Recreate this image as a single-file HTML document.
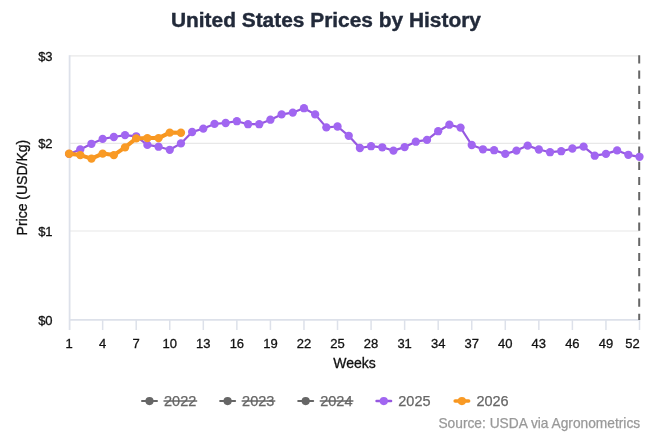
<!DOCTYPE html><html><head><meta charset="utf-8"><style>html,body{margin:0;padding:0;background:#fff;width:650px;height:433px;overflow:hidden}svg{display:block;will-change:transform;font-family:"Liberation Sans",sans-serif}</style></head><body>
<svg width="650" height="433" viewBox="0 0 650 433">
<text x="325.9" y="27.1" text-anchor="middle" font-size="20.9" font-weight="bold" fill="#222a3a" stroke="#222a3a" stroke-width="0.4">United States Prices by History</text>
<line x1="69.6" y1="231.00" x2="639.5" y2="231.00" stroke="#e8e8e8" stroke-width="1.2"/>
<line x1="69.6" y1="143.40" x2="639.5" y2="143.40" stroke="#e8e8e8" stroke-width="1.2"/>
<line x1="69.6" y1="55.80" x2="639.5" y2="55.80" stroke="#e8e8e8" stroke-width="1.2"/>
<line x1="69.6" y1="55.3" x2="69.6" y2="330" stroke="#dde1ea" stroke-width="1.8"/>
<line x1="69.6" y1="319.9" x2="639.5" y2="319.9" stroke="#dde1ea" stroke-width="1.8"/>
<line x1="102.65" y1="319.9" x2="102.65" y2="330" stroke="#dde1ea" stroke-width="1.5"/>
<line x1="136.21" y1="319.9" x2="136.21" y2="330" stroke="#dde1ea" stroke-width="1.5"/>
<line x1="169.76" y1="319.9" x2="169.76" y2="330" stroke="#dde1ea" stroke-width="1.5"/>
<line x1="203.31" y1="319.9" x2="203.31" y2="330" stroke="#dde1ea" stroke-width="1.5"/>
<line x1="236.86" y1="319.9" x2="236.86" y2="330" stroke="#dde1ea" stroke-width="1.5"/>
<line x1="270.42" y1="319.9" x2="270.42" y2="330" stroke="#dde1ea" stroke-width="1.5"/>
<line x1="303.97" y1="319.9" x2="303.97" y2="330" stroke="#dde1ea" stroke-width="1.5"/>
<line x1="337.52" y1="319.9" x2="337.52" y2="330" stroke="#dde1ea" stroke-width="1.5"/>
<line x1="371.08" y1="319.9" x2="371.08" y2="330" stroke="#dde1ea" stroke-width="1.5"/>
<line x1="404.63" y1="319.9" x2="404.63" y2="330" stroke="#dde1ea" stroke-width="1.5"/>
<line x1="438.18" y1="319.9" x2="438.18" y2="330" stroke="#dde1ea" stroke-width="1.5"/>
<line x1="471.74" y1="319.9" x2="471.74" y2="330" stroke="#dde1ea" stroke-width="1.5"/>
<line x1="505.29" y1="319.9" x2="505.29" y2="330" stroke="#dde1ea" stroke-width="1.5"/>
<line x1="538.84" y1="319.9" x2="538.84" y2="330" stroke="#dde1ea" stroke-width="1.5"/>
<line x1="572.39" y1="319.9" x2="572.39" y2="330" stroke="#dde1ea" stroke-width="1.5"/>
<line x1="605.95" y1="319.9" x2="605.95" y2="330" stroke="#dde1ea" stroke-width="1.5"/>
<line x1="639.50" y1="319.9" x2="639.50" y2="330" stroke="#dde1ea" stroke-width="1.5"/>
<text x="52.6" y="324.70" text-anchor="end" font-size="13" fill="#111" stroke="#111" stroke-width="0.3">$0</text>
<text x="52.6" y="235.80" text-anchor="end" font-size="13" fill="#111" stroke="#111" stroke-width="0.3">$1</text>
<text x="52.6" y="148.20" text-anchor="end" font-size="13" fill="#111" stroke="#111" stroke-width="0.3">$2</text>
<text x="52.6" y="60.60" text-anchor="end" font-size="13" fill="#111" stroke="#111" stroke-width="0.3">$3</text>
<text x="69.10" y="347.5" text-anchor="middle" font-size="13" fill="#111" stroke="#111" stroke-width="0.3">1</text>
<text x="102.65" y="347.5" text-anchor="middle" font-size="13" fill="#111" stroke="#111" stroke-width="0.3">4</text>
<text x="136.21" y="347.5" text-anchor="middle" font-size="13" fill="#111" stroke="#111" stroke-width="0.3">7</text>
<text x="169.76" y="347.5" text-anchor="middle" font-size="13" fill="#111" stroke="#111" stroke-width="0.3">10</text>
<text x="203.31" y="347.5" text-anchor="middle" font-size="13" fill="#111" stroke="#111" stroke-width="0.3">13</text>
<text x="236.86" y="347.5" text-anchor="middle" font-size="13" fill="#111" stroke="#111" stroke-width="0.3">16</text>
<text x="270.42" y="347.5" text-anchor="middle" font-size="13" fill="#111" stroke="#111" stroke-width="0.3">19</text>
<text x="303.97" y="347.5" text-anchor="middle" font-size="13" fill="#111" stroke="#111" stroke-width="0.3">22</text>
<text x="337.52" y="347.5" text-anchor="middle" font-size="13" fill="#111" stroke="#111" stroke-width="0.3">25</text>
<text x="371.08" y="347.5" text-anchor="middle" font-size="13" fill="#111" stroke="#111" stroke-width="0.3">28</text>
<text x="404.63" y="347.5" text-anchor="middle" font-size="13" fill="#111" stroke="#111" stroke-width="0.3">31</text>
<text x="438.18" y="347.5" text-anchor="middle" font-size="13" fill="#111" stroke="#111" stroke-width="0.3">34</text>
<text x="471.74" y="347.5" text-anchor="middle" font-size="13" fill="#111" stroke="#111" stroke-width="0.3">37</text>
<text x="505.29" y="347.5" text-anchor="middle" font-size="13" fill="#111" stroke="#111" stroke-width="0.3">40</text>
<text x="538.84" y="347.5" text-anchor="middle" font-size="13" fill="#111" stroke="#111" stroke-width="0.3">43</text>
<text x="572.39" y="347.5" text-anchor="middle" font-size="13" fill="#111" stroke="#111" stroke-width="0.3">46</text>
<text x="605.95" y="347.5" text-anchor="middle" font-size="13" fill="#111" stroke="#111" stroke-width="0.3">49</text>
<text x="632.60" y="347.5" text-anchor="middle" font-size="13" fill="#111" stroke="#111" stroke-width="0.3">52</text>
<text x="354.5" y="367.9" text-anchor="middle" font-size="14" fill="#111" stroke="#111" stroke-width="0.3">Weeks</text>
<text transform="translate(27.0,187.6) rotate(-90)" x="0" y="0" text-anchor="middle" font-size="14" fill="#111" stroke="#111" stroke-width="0.3">Price (USD/Kg)</text>
<line x1="639.2" y1="55.3" x2="639.2" y2="319.9" stroke="#666" stroke-width="2" stroke-dasharray="8.2 7.0"/>
<polyline points="69.10,153.90 80.28,149.40 91.47,143.80 102.65,138.90 113.84,137.00 125.02,135.10 136.21,136.30 147.39,144.90 158.57,146.70 169.76,149.80 180.94,143.40 192.13,132.00 203.31,128.60 214.50,123.90 225.68,123.00 236.86,121.20 248.05,124.20 259.23,124.20 270.42,119.70 281.60,114.40 292.79,112.60 303.97,108.20 315.15,114.40 326.34,127.40 337.52,126.50 348.71,135.80 359.89,148.00 371.08,146.20 382.26,147.30 393.45,150.60 404.63,147.10 415.81,141.70 427.00,139.90 438.18,131.20 449.37,124.70 460.55,127.60 471.74,145.00 482.92,149.30 494.10,150.20 505.29,153.90 516.47,150.60 527.66,145.60 538.84,149.50 550.03,152.20 561.21,151.20 572.39,148.50 583.58,146.60 594.76,155.70 605.95,153.90 617.13,150.40 628.32,154.80 639.50,156.80" fill="none" stroke="#9658e0" stroke-width="2.2" stroke-linejoin="round"/><circle cx="69.10" cy="153.90" r="4.15" fill="#a166f1"/><circle cx="80.28" cy="149.40" r="4.15" fill="#a166f1"/><circle cx="91.47" cy="143.80" r="4.15" fill="#a166f1"/><circle cx="102.65" cy="138.90" r="4.15" fill="#a166f1"/><circle cx="113.84" cy="137.00" r="4.15" fill="#a166f1"/><circle cx="125.02" cy="135.10" r="4.15" fill="#a166f1"/><circle cx="136.21" cy="136.30" r="4.15" fill="#a166f1"/><circle cx="147.39" cy="144.90" r="4.15" fill="#a166f1"/><circle cx="158.57" cy="146.70" r="4.15" fill="#a166f1"/><circle cx="169.76" cy="149.80" r="4.15" fill="#a166f1"/><circle cx="180.94" cy="143.40" r="4.15" fill="#a166f1"/><circle cx="192.13" cy="132.00" r="4.15" fill="#a166f1"/><circle cx="203.31" cy="128.60" r="4.15" fill="#a166f1"/><circle cx="214.50" cy="123.90" r="4.15" fill="#a166f1"/><circle cx="225.68" cy="123.00" r="4.15" fill="#a166f1"/><circle cx="236.86" cy="121.20" r="4.15" fill="#a166f1"/><circle cx="248.05" cy="124.20" r="4.15" fill="#a166f1"/><circle cx="259.23" cy="124.20" r="4.15" fill="#a166f1"/><circle cx="270.42" cy="119.70" r="4.15" fill="#a166f1"/><circle cx="281.60" cy="114.40" r="4.15" fill="#a166f1"/><circle cx="292.79" cy="112.60" r="4.15" fill="#a166f1"/><circle cx="303.97" cy="108.20" r="4.15" fill="#a166f1"/><circle cx="315.15" cy="114.40" r="4.15" fill="#a166f1"/><circle cx="326.34" cy="127.40" r="4.15" fill="#a166f1"/><circle cx="337.52" cy="126.50" r="4.15" fill="#a166f1"/><circle cx="348.71" cy="135.80" r="4.15" fill="#a166f1"/><circle cx="359.89" cy="148.00" r="4.15" fill="#a166f1"/><circle cx="371.08" cy="146.20" r="4.15" fill="#a166f1"/><circle cx="382.26" cy="147.30" r="4.15" fill="#a166f1"/><circle cx="393.45" cy="150.60" r="4.15" fill="#a166f1"/><circle cx="404.63" cy="147.10" r="4.15" fill="#a166f1"/><circle cx="415.81" cy="141.70" r="4.15" fill="#a166f1"/><circle cx="427.00" cy="139.90" r="4.15" fill="#a166f1"/><circle cx="438.18" cy="131.20" r="4.15" fill="#a166f1"/><circle cx="449.37" cy="124.70" r="4.15" fill="#a166f1"/><circle cx="460.55" cy="127.60" r="4.15" fill="#a166f1"/><circle cx="471.74" cy="145.00" r="4.15" fill="#a166f1"/><circle cx="482.92" cy="149.30" r="4.15" fill="#a166f1"/><circle cx="494.10" cy="150.20" r="4.15" fill="#a166f1"/><circle cx="505.29" cy="153.90" r="4.15" fill="#a166f1"/><circle cx="516.47" cy="150.60" r="4.15" fill="#a166f1"/><circle cx="527.66" cy="145.60" r="4.15" fill="#a166f1"/><circle cx="538.84" cy="149.50" r="4.15" fill="#a166f1"/><circle cx="550.03" cy="152.20" r="4.15" fill="#a166f1"/><circle cx="561.21" cy="151.20" r="4.15" fill="#a166f1"/><circle cx="572.39" cy="148.50" r="4.15" fill="#a166f1"/><circle cx="583.58" cy="146.60" r="4.15" fill="#a166f1"/><circle cx="594.76" cy="155.70" r="4.15" fill="#a166f1"/><circle cx="605.95" cy="153.90" r="4.15" fill="#a166f1"/><circle cx="617.13" cy="150.40" r="4.15" fill="#a166f1"/><circle cx="628.32" cy="154.80" r="4.15" fill="#a166f1"/><circle cx="639.50" cy="156.80" r="4.15" fill="#a166f1"/>
<polyline points="69.10,153.70 80.28,155.10 91.47,158.60 102.65,153.60 113.84,155.10 125.02,147.40 136.21,138.40 147.39,138.10 158.57,138.10 169.76,132.60 180.94,132.70" fill="none" stroke="#f7961f" stroke-width="4.0" stroke-linejoin="round"/><circle cx="69.10" cy="153.70" r="4.2" fill="#f99a25"/><circle cx="80.28" cy="155.10" r="4.2" fill="#f99a25"/><circle cx="91.47" cy="158.60" r="4.2" fill="#f99a25"/><circle cx="102.65" cy="153.60" r="4.2" fill="#f99a25"/><circle cx="113.84" cy="155.10" r="4.2" fill="#f99a25"/><circle cx="125.02" cy="147.40" r="4.2" fill="#f99a25"/><circle cx="136.21" cy="138.40" r="4.2" fill="#f99a25"/><circle cx="147.39" cy="138.10" r="4.2" fill="#f99a25"/><circle cx="158.57" cy="138.10" r="4.2" fill="#f99a25"/><circle cx="169.76" cy="132.60" r="4.2" fill="#f99a25"/><circle cx="180.94" cy="132.70" r="4.2" fill="#f99a25"/>
<line x1="142.00" y1="401.1" x2="157.00" y2="401.1" stroke="#666" stroke-width="2" stroke-linecap="round"/>
<circle cx="149.50" cy="401.1" r="4.1" fill="#666"/>
<text x="164.00" y="406" font-size="14.5" fill="#666" stroke="#666" stroke-width="0.25">2022</text>
<line x1="163.50" y1="401.1" x2="197.20" y2="401.1" stroke="#666" stroke-width="1.5"/>
<line x1="220.10" y1="401.1" x2="235.10" y2="401.1" stroke="#666" stroke-width="2" stroke-linecap="round"/>
<circle cx="227.60" cy="401.1" r="4.1" fill="#666"/>
<text x="242.10" y="406" font-size="14.5" fill="#666" stroke="#666" stroke-width="0.25">2023</text>
<line x1="241.60" y1="401.1" x2="275.30" y2="401.1" stroke="#666" stroke-width="1.5"/>
<line x1="298.20" y1="401.1" x2="313.20" y2="401.1" stroke="#666" stroke-width="2" stroke-linecap="round"/>
<circle cx="305.70" cy="401.1" r="4.1" fill="#666"/>
<text x="320.20" y="406" font-size="14.5" fill="#666" stroke="#666" stroke-width="0.25">2024</text>
<line x1="319.70" y1="401.1" x2="353.40" y2="401.1" stroke="#666" stroke-width="1.5"/>
<line x1="376.55" y1="401.1" x2="391.05" y2="401.1" stroke="#9658e0" stroke-width="2.5" stroke-linecap="round"/>
<circle cx="383.80" cy="401.1" r="4.1" fill="#a166f1"/>
<text x="398.30" y="406" font-size="14.5" fill="#666" stroke="#666" stroke-width="0.25">2025</text>
<line x1="455.15" y1="401.1" x2="468.65" y2="401.1" stroke="#f7961f" stroke-width="3.5" stroke-linecap="round"/>
<circle cx="461.90" cy="401.1" r="4.1" fill="#f99a25"/>
<text x="476.40" y="406" font-size="14.5" fill="#666" stroke="#666" stroke-width="0.25">2026</text>
<text x="640.2" y="428.2" text-anchor="end" font-size="13.75" fill="#999" stroke="#999" stroke-width="0.25">Source: USDA via Agronometrics</text>
</svg></body></html>
